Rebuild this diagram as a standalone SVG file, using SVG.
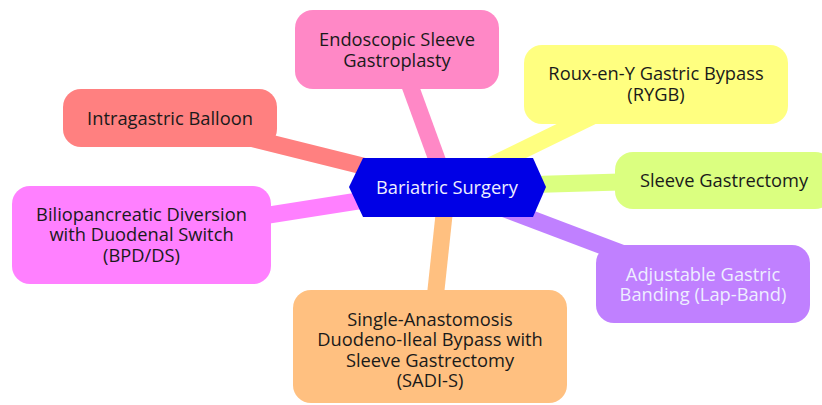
<svg xmlns="http://www.w3.org/2000/svg" width="822" height="405" viewBox="0 0 822 405">
<style>
.edge{fill:none;stroke-width:17;stroke-linecap:butt}
.lbl{font-family:"Open Sans","Noto Sans","Liberation Sans",sans-serif;font-size:18.3px;fill:#1a1a1a;text-anchor:middle}
.light{fill:#eeeeff}
</style>
<rect width="822" height="405" fill="#ffffff"/>
<g id="connectors">
<line class="edge" x1="447" y1="187" x2="170" y2="118" stroke="#ff8080"/>
<line class="edge" x1="447" y1="187" x2="397" y2="50" stroke="#ff88c6"/>
<line class="edge" x1="447" y1="187" x2="656" y2="85" stroke="#ffff80"/>
<line class="edge" x1="447" y1="187" x2="724" y2="179" stroke="#dbff80"/>
<line class="edge" x1="447" y1="187" x2="703" y2="284" stroke="#c080ff"/>
<line class="edge" x1="447" y1="187" x2="430" y2="346" stroke="#ffc080"/>
<line class="edge" x1="447" y1="187" x2="141" y2="235" stroke="#ff80ff"/>
</g>
<g id="root">
<polygon points="349,187 363,158 533,158 546,187 533,217 363,217" fill="#0000e6"/>
<text class="lbl light" x="447" y="193.5">Bariatric Surgery</text>
</g>
<g id="intragastric">
<rect x="63" y="89" width="214" height="58" rx="18" fill="#ff8080"/>
<text class="lbl" x="170" y="124.5">Intragastric Balloon</text>
</g>
<g id="endoscopic">
<rect x="295" y="10" width="204" height="79" rx="18" fill="#ff88c6"/>
<text class="lbl" x="397" y="45.5">Endoscopic Sleeve</text>
<text class="lbl" x="397" y="66.5">Gastroplasty</text>
</g>
<g id="rygb">
<rect x="524" y="45" width="264" height="79" rx="18" fill="#ffff80"/>
<text class="lbl" x="656" y="79.5">Roux-en-Y Gastric Bypass</text>
<text class="lbl" x="656" y="100.5">(RYGB)</text>
</g>
<g id="sleeve">
<rect x="615" y="152" width="218" height="57" rx="18" fill="#dbff80"/>
<text class="lbl" x="724" y="186.5">Sleeve Gastrectomy</text>
</g>
<g id="lapband">
<rect x="596" y="245" width="214" height="78" rx="18" fill="#c080ff"/>
<text class="lbl light" x="703" y="280.5">Adjustable Gastric</text>
<text class="lbl light" x="703" y="300.5">Banding (Lap-Band)</text>
</g>
<g id="sadis">
<rect x="293" y="290" width="274" height="113" rx="18" fill="#ffc080"/>
<text class="lbl" x="430" y="325.5">Single-Anastomosis</text>
<text class="lbl" x="430" y="346">Duodeno-Ileal Bypass with</text>
<text class="lbl" x="430" y="366.5">Sleeve Gastrectomy</text>
<text class="lbl" x="430" y="387">(SADI-S)</text>
</g>
<g id="bpdds">
<rect x="12" y="186" width="259" height="98" rx="18" fill="#ff80ff"/>
<text class="lbl" x="141.5" y="220.5">Biliopancreatic Diversion</text>
<text class="lbl" x="141.5" y="241">with Duodenal Switch</text>
<text class="lbl" x="141.5" y="261.5">(BPD/DS)</text>
</g>
</svg>
